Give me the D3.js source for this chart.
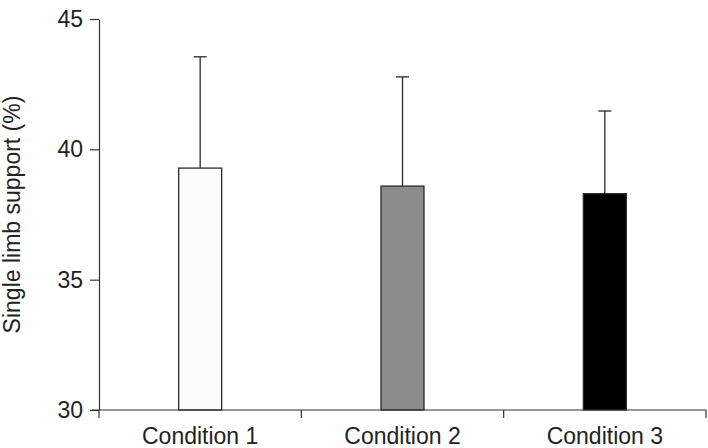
<!DOCTYPE html>
<html>
<head>
<meta charset="utf-8">
<script src="https://cdn.jsdelivr.net/npm/d3@7"></script>
<style>
  body { margin: 0; background: #fff; }
  svg { display: block; font-family: "Liberation Sans", Arial, sans-serif; }
</style>
</head>
<body>
<div id="chart"></div>
<script>
// Chart data
const categories = ["Condition 1", "Condition 2", "Condition 3"];
const means = [39.28, 38.59, 38.3];
const sds = [4.27, 4.19, 3.17];
const fills = ["#fcfcfc", "#8c8c8c", "#000000"];
const yTicks = [30, 35, 40, 45];

const width = 708, height = 448;
const margin = { top: 19, right: 2, bottom: 38, left: 99 };
const barWidth = 43;
const fontSize = "23px";

const svg = d3.select("#chart").append("svg")
  .attr("width", width)
  .attr("height", height);

const x = d3.scaleBand()
  .domain(categories)
  .range([margin.left, width - margin.right])
  .padding(0);

const y = d3.scaleLinear()
  .domain([30, 45])
  .range([height - margin.bottom, margin.top]);

const axisColor = "#333";

// Bars
svg.selectAll(".bar")
  .data(categories)
  .enter()
  .append("rect")
  .attr("class", "bar")
  .attr("x", (d) => x(d) + x.bandwidth() / 2 - barWidth / 2)
  .attr("width", barWidth)
  .attr("y", (d, i) => y(means[i]))
  .attr("height", (d, i) => y(30) - y(means[i]))
  .attr("fill", (d, i) => fills[i])
  .attr("stroke", "#2a2a2a")
  .attr("stroke-width", 1.3);

// Error bars (upper only)
const err = svg.append("g").attr("stroke", "#2a2a2a").attr("stroke-width", 1.3);
categories.forEach((c, i) => {
  const cx = x(c) + x.bandwidth() / 2;
  err.append("line")
    .attr("x1", cx).attr("x2", cx)
    .attr("y1", y(means[i])).attr("y2", y(means[i] + sds[i]));
  err.append("line")
    .attr("x1", cx - 6.5).attr("x2", cx + 6.5)
    .attr("y1", y(means[i] + sds[i])).attr("y2", y(means[i] + sds[i]));
});

// Y axis
const yAxis = svg.append("g")
  .attr("transform", `translate(${margin.left},0)`)
  .call(d3.axisLeft(y).tickValues(yTicks).tickSize(9).tickSizeOuter(0).tickPadding(7));
yAxis.select(".domain").attr("stroke", axisColor).attr("stroke-width", 1.2);
yAxis.selectAll(".tick line").attr("stroke", axisColor).attr("stroke-width", 1.2);
yAxis.selectAll(".tick text")
  .attr("fill", "#222")
  .style("font-size", fontSize)
  .style("font-family", "Liberation Sans, Arial, sans-serif");

// X axis line with ticks at category boundaries
const xAxis = svg.append("g").attr("stroke", axisColor).attr("stroke-width", 1.2);
const baseY = y(30);
xAxis.append("line")
  .attr("x1", margin.left - 7).attr("x2", width - margin.right)
  .attr("y1", baseY).attr("y2", baseY);
const bounds = categories.map((c) => x(c)).concat([x(categories[categories.length - 1]) + x.bandwidth()]);
bounds.forEach((bx) => {
  xAxis.append("line")
    .attr("x1", bx).attr("x2", bx)
    .attr("y1", baseY).attr("y2", baseY + 8);
});

svg.selectAll(".xlabel")
  .data(categories)
  .enter()
  .append("text")
  .attr("class", "xlabel")
  .attr("x", (d) => x(d) + x.bandwidth() / 2)
  .attr("y", baseY + 34)
  .attr("text-anchor", "middle")
  .attr("fill", "#222")
  .style("font-size", fontSize)
  .text((d) => d);

// Y label
svg.append("text")
  .attr("transform", `translate(20,${(y(30) + y(45)) / 2}) rotate(-90)`)
  .attr("text-anchor", "middle")
  .attr("fill", "#222")
  .style("font-size", fontSize)
  .text("Single limb support (%)");
</script>
</body>
</html>
